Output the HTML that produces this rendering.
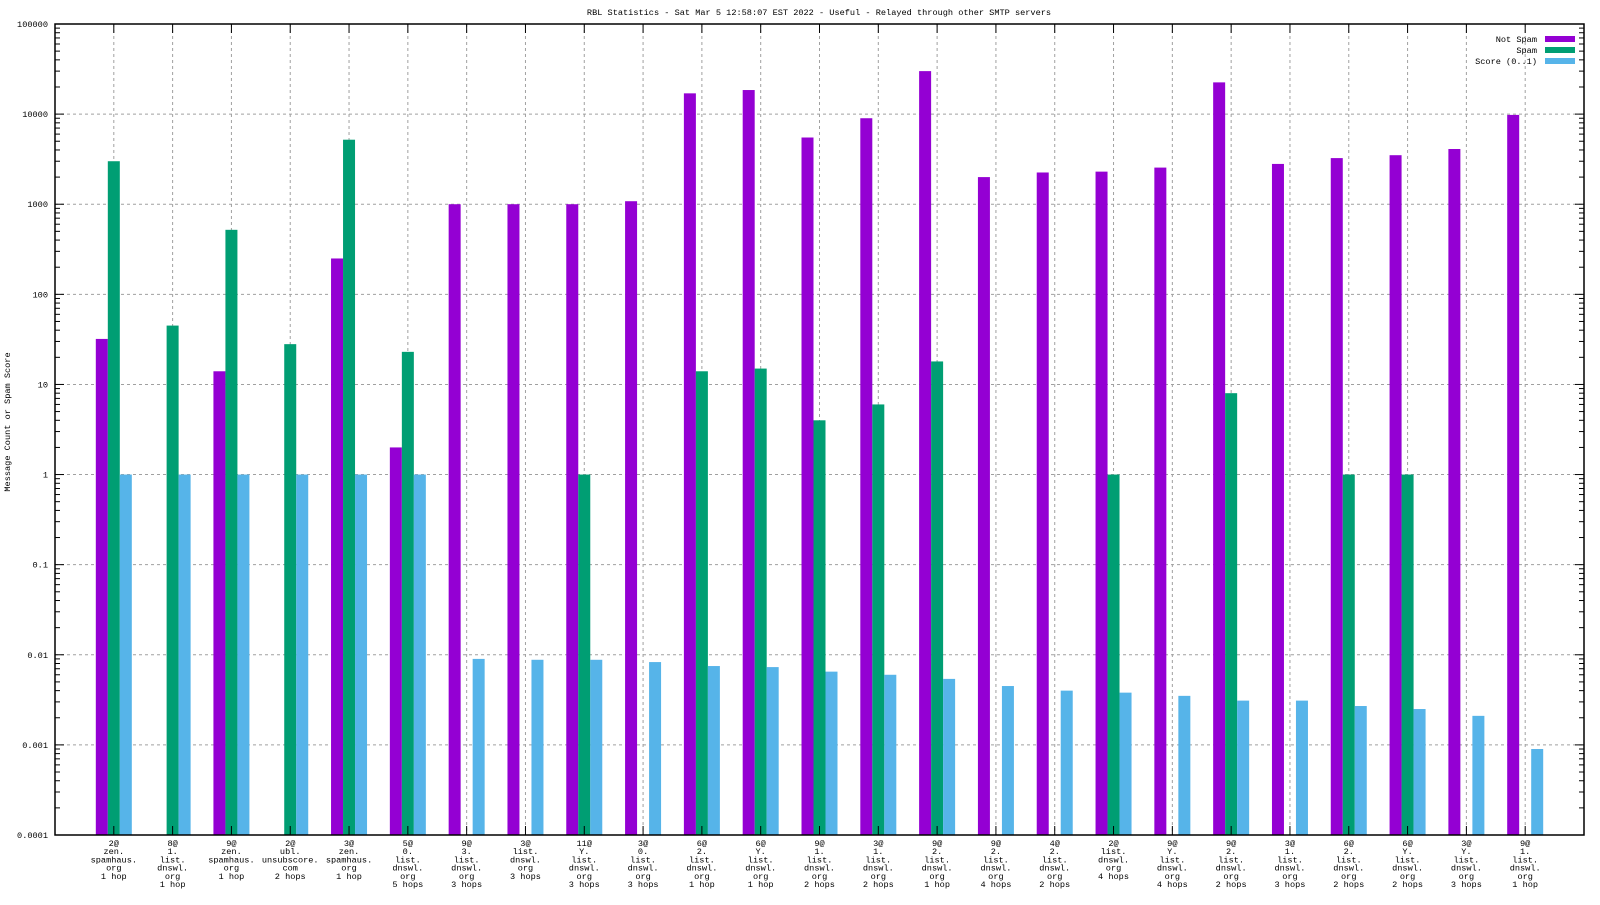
<!DOCTYPE html>
<html><head><meta charset="utf-8"><style>
body{margin:0;background:#fff}
svg text{font-family:"Liberation Mono",monospace;font-size:8.6px;fill:#000}
</style></head><body>
<svg id="chart" width="1600" height="900" xmlns="http://www.w3.org/2000/svg">
<text x="819" y="15" text-anchor="middle">RBL Statistics - Sat Mar  5 12:58:07 EST 2022 - Useful - Relayed through other SMTP servers</text>
<text transform="translate(10,422) rotate(-90)" text-anchor="middle">Message Count or Spam Score</text>
<g id="grid"></g><g id="bars"></g><g id="axes"></g><g id="legend"></g>
</svg>
<script>
const categories=[["2@","zen.","spamhaus.","org","1 hop"],["8@","1.","list.","dnswl.","org","1 hop"],["9@","zen.","spamhaus.","org","1 hop"],["2@","ubl.","unsubscore.","com","2 hops"],["3@","zen.","spamhaus.","org","1 hop"],["5@","0.","list.","dnswl.","org","5 hops"],["9@","3.","list.","dnswl.","org","3 hops"],["3@","list.","dnswl.","org","3 hops"],["11@","Y.","list.","dnswl.","org","3 hops"],["3@","0.","list.","dnswl.","org","3 hops"],["6@","2.","list.","dnswl.","org","1 hop"],["6@","Y.","list.","dnswl.","org","1 hop"],["9@","1.","list.","dnswl.","org","2 hops"],["3@","1.","list.","dnswl.","org","2 hops"],["9@","2.","list.","dnswl.","org","1 hop"],["9@","2.","list.","dnswl.","org","4 hops"],["4@","2.","list.","dnswl.","org","2 hops"],["2@","list.","dnswl.","org","4 hops"],["9@","Y.","list.","dnswl.","org","4 hops"],["9@","2.","list.","dnswl.","org","2 hops"],["3@","1.","list.","dnswl.","org","3 hops"],["6@","2.","list.","dnswl.","org","2 hops"],["6@","Y.","list.","dnswl.","org","2 hops"],["3@","Y.","list.","dnswl.","org","3 hops"],["9@","1.","list.","dnswl.","org","1 hop"]];
const notSpam=[32,null,14,null,250,2,1000,1000,1000,1080,17000,18500,5500,9000,30000,2000,2250,2300,2550,22500,2800,3250,3500,4100,9800];
const spam=[3000,45,520,28,5200,23,null,null,1,null,14,15,4,6,18,null,null,1,null,8,null,1,1,null,null];
const score=[1,1,1,1,1,1,0.009,0.0088,0.0088,0.0083,0.0075,0.0073,0.0065,0.006,0.0054,0.0045,0.004,0.0038,0.0035,0.0031,0.0031,0.0027,0.0025,0.0021,0.0009];
const yTicks=[0.0001,0.001,0.01,0.1,1,10,100,1000,10000,100000];
const yTickLabels=["0.0001","0.001","0.01","0.1","1","10","100","1000","10000","100000"];
const seriesNames=["Not Spam","Spam","Score (0..1)"];
const colors=["#9400d3","#009e73","#56b4e9"];
const L=55,R=1584,T=24,B=835;
const NS="http://www.w3.org/2000/svg";
function x(i){return L+(R-L)/26*(i+1);}
function y(v){return B-(Math.log10(v)+4)/9*(B-T);}
function mk(tag,attrs,parent){const e=document.createElementNS(NS,tag);for(const k in attrs)e.setAttribute(k,attrs[k]);parent.appendChild(e);return e;}
const grid=document.getElementById('grid'),bars=document.getElementById('bars'),axes=document.getElementById('axes'),legend=document.getElementById('legend');
yTicks.forEach((v,k)=>{const yy=y(v);
 if(k>0&&k<yTicks.length-1){const g=mk('line',{x1:L,x2:R,y1:yy,y2:yy,stroke:'#a0a0a0','stroke-dasharray':'3,3'},grid);
 
 }
 mk('line',{x1:L,x2:L+9,y1:yy,y2:yy,stroke:'#000'},axes);mk('line',{x1:R,x2:R-9,y1:yy,y2:yy,stroke:'#000'},axes);
 const t=mk('text',{x:L-7,y:yy+3,'text-anchor':'end'},axes);t.textContent=yTickLabels[k];
 
 
 if(k<yTicks.length-1)for(let m=2;m<10;m++){const my=y(v*m);mk('line',{x1:L,x2:L+5,y1:my,y2:my,stroke:'#000'},axes);mk('line',{x1:R,x2:R-5,y1:my,y2:my,stroke:'#000'},axes);}
});
categories.forEach((c,i)=>{const xx=x(i);
 const g=mk('line',{x1:xx,x2:xx,y1:T,y2:B,stroke:'#a0a0a0','stroke-dasharray':'3,3'},grid);
 
 
 mk('line',{x1:xx,x2:xx,y1:B,y2:B-9,stroke:'#000'},axes);mk('line',{x1:xx,x2:xx,y1:T,y2:T+9,stroke:'#000'},axes);
 const t=mk('text',{x:xx,y:B+11,'text-anchor':'middle'},axes);
 
 
 c.forEach((ln,j)=>{const s=mk('tspan',{x:xx,dy:j?8.2:0},t);s.textContent=ln;});
 [notSpam,spam,score].forEach((arr,s)=>{const v=arr[i];if(v==null)return;const top=y(v);
  const r=mk('rect',{x:xx-18+12*s,y:top,width:12,height:B-top,fill:colors[s]},bars);
  
  });
});
mk('rect',{x:L,y:T,width:R-L,height:B-T,fill:'none',stroke:'#000','stroke-width':1.5},axes);
seriesNames.forEach((n,s)=>{const yy=39+11*s;
 const t=mk('text',{x:1537,y:yy+3,'text-anchor':'end'},legend);t.textContent=n;
 
 
 const r=mk('rect',{x:1545,y:yy-3,width:30,height:6,fill:colors[s]},legend);
 
 
});
</script>
</body></html>
